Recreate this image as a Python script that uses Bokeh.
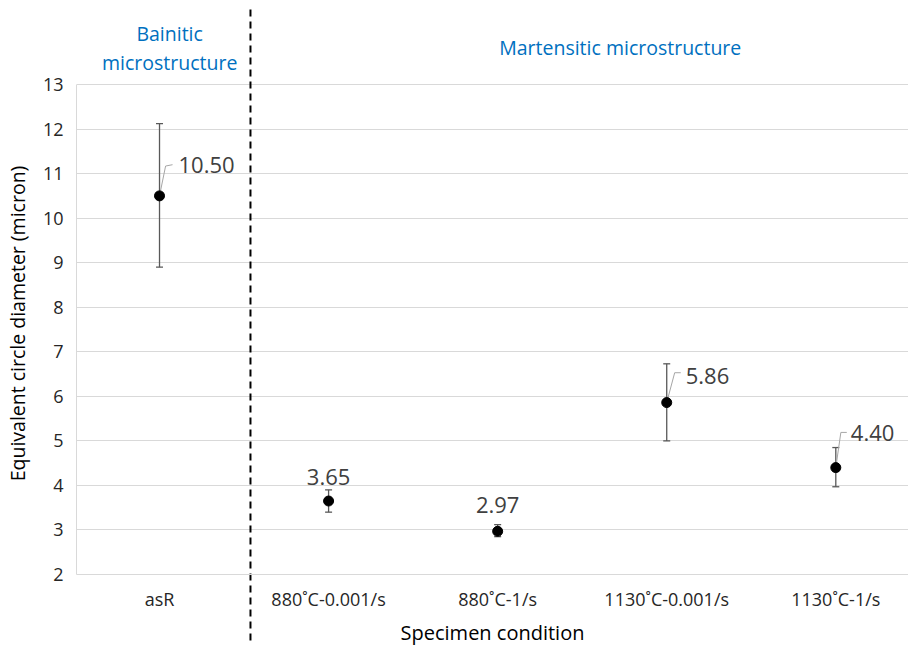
from bokeh.plotting import figure
from bokeh.models import ColumnDataSource, Whisker, TeeHead, FixedTicker, Label
from bokeh.core.properties import value
from bokeh.embed import file_html
from bokeh.resources import INLINE

# ---- data ----
conditions = ["asR", "880˚C-0.001/s", "880˚C-1/s", "1130˚C-0.001/s", "1130˚C-1/s"]
mean_diam = [10.50, 3.65, 2.97, 5.86, 4.40]
err_lower = [8.90, 3.40, 2.85, 5.00, 3.97]
err_upper = [12.12, 3.90, 3.12, 6.73, 4.85]
value_labels = ["10.50", "3.65", "2.97", "5.86", "4.40"]
y_ticks = [2, 3, 4, 5, 6, 7, 8, 9, 10, 11, 12, 13]
group_names = ["Bainitic", "microstructure", "Martensitic microstructure"]

# ---- styles ----
FONT = "Open Sans"
label_side = ["right", "above", "above", "right", "right"]
label_xoff = [19, 0, 0, 19, 15]
label_yoff = [-31, -24, -26, -27, -35]
lead_bend = [(0.036, 0.67), None, None, (0.047, 0.67), (0.030, 0.79)]
lead_end = [(0.077, 0.70), None, None, (0.083, 0.67), (0.065, 0.79)]

xs = list(range(len(conditions)))

p = figure(width=908, height=646, x_range=(-0.491, 4.43), y_range=(0.384, 14.886),
           output_backend="svg", toolbar_location=None,
           min_border_left=76, min_border_top=0, min_border_bottom=0, min_border_right=0)
p.outline_line_color = None
p.background_fill_color = "white"

# axes
p.xaxis.ticker = FixedTicker(ticks=xs)
p.xaxis.major_label_overrides = {i: c for i, c in zip(xs, conditions)}
p.xaxis.fixed_location = 2
p.yaxis.ticker = FixedTicker(ticks=y_ticks)
p.yaxis.bounds = (2, 13)
for ax in (p.xaxis, p.yaxis):
    ax.major_tick_line_color = None
    ax.minor_tick_line_color = None
    ax.major_tick_out = 0
    ax.major_tick_in = 0
    ax.minor_tick_out = 0
    ax.minor_tick_in = 0
    ax.axis_line_color = "#d9d9d9"
    ax.major_label_text_font = FONT
    ax.major_label_text_color = "#262626"
    ax.axis_label_text_font = FONT
    ax.axis_label_text_font_style = "normal"
    ax.axis_label_text_color = "#000000"
p.xaxis.major_label_text_font_size = "18px"
p.yaxis.major_label_text_font_size = "18px"
p.xaxis.axis_label = "Specimen condition"
p.yaxis.axis_label = "Equivalent circle diameter (micron)"
p.xaxis.axis_label_text_font_size = "20px"
p.yaxis.axis_label_text_font_size = "19.5px"
p.xaxis.major_label_standoff = 12
p.yaxis.major_label_standoff = 13
p.xaxis.axis_label_standoff = 5
p.yaxis.axis_label_standoff = 9

p.xgrid.grid_line_color = None
p.ygrid.ticker = FixedTicker(ticks=y_ticks)
p.ygrid.grid_line_color = "#d9d9d9"
p.ygrid.grid_line_width = 1

src = ColumnDataSource(dict(x=xs, y=mean_diam, lower=err_lower, upper=err_upper,
                            label=value_labels, xo=label_xoff, yo=label_yoff))

# error bars
whisk = Whisker(source=src, base="x", upper="upper", lower="lower",
                line_color="#595959", line_width=1.3,
                upper_head=TeeHead(size=7, line_color="#595959", line_width=1.3),
                lower_head=TeeHead(size=7, line_color="#595959", line_width=1.3))
p.add_layout(whisk)

# leader lines
lx, ly = [], []
for x, y, b, e in zip(xs, mean_diam, lead_bend, lead_end):
    if b is None:
        continue
    lx.append([x, x + b[0], x + e[0]])
    ly.append([y, y + b[1], y + e[1]])
p.multi_line(lx, ly, line_color="#a6a6a6", line_width=1)

# points
p.scatter("x", "y", source=src, size=10, color="black")

# value labels
for side, align in (("right", "left"), ("above", "center")):
    idx = [i for i, s in enumerate(label_side) if s == side]
    s = ColumnDataSource({k: [src.data[k][i] for i in idx] for k in src.data})
    p.text("x", "y", text="label", source=s, x_offset="xo", y_offset="yo",
           text_align=align, text_baseline="middle", text_font=value(FONT),
           text_font_size="22px", text_color="#404040")

# divider between microstructure groups
divider_x = 0.538
p.segment(x0=[divider_x], y0=[0.52], x1=[divider_x], y1=[14.78],
          line_color="black", line_width=2, line_dash="7 5")

# group titles
for txt, gx, gy in ((group_names[0], 0.06, 14.145), (group_names[1], 0.06, 13.494),
                    (group_names[2], 2.725, 13.83)):
    p.add_layout(Label(x=gx, y=gy, text=txt, text_align="center", text_baseline="middle",
                       text_font=FONT, text_font_size="19.5px", text_color="#0070C0"))

open("out.html", "w").write(file_html(p, INLINE))
